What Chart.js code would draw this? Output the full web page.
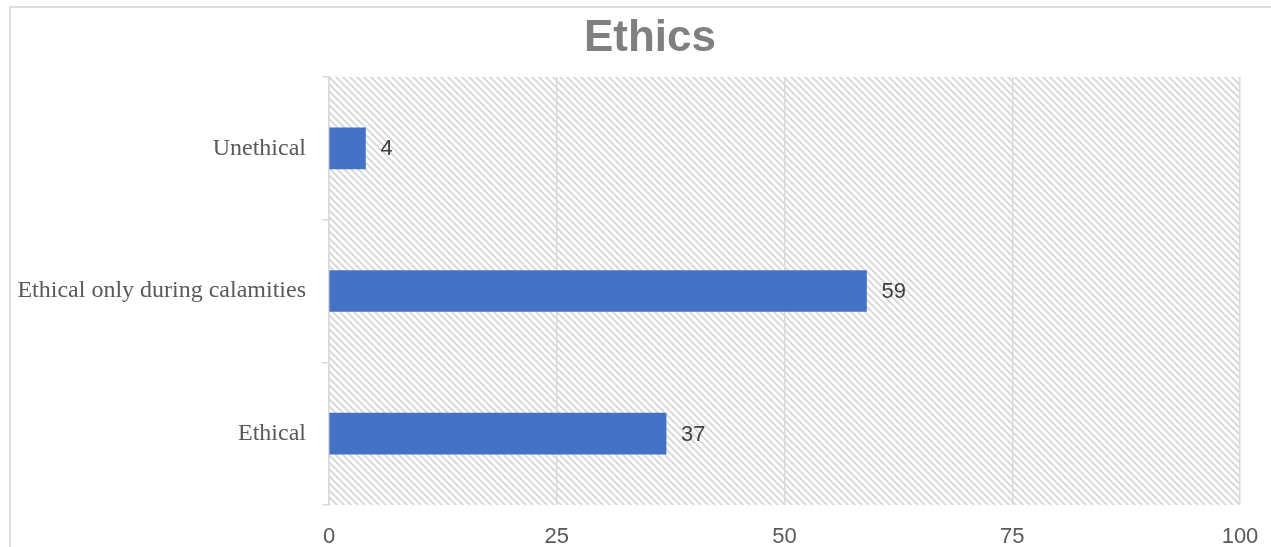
<!DOCTYPE html>
<html>
<head>
<meta charset="utf-8">
<script src="https://cdn.jsdelivr.net/npm/chart.js@4.4.1/dist/chart.umd.min.js"></script>
<style>
  html, body { margin: 0; padding: 0; background: #fff; overflow: hidden; }
  #wrap { position: relative; width: 1271px; height: 547px; }
  #frame { position: absolute; left: 9px; top: 6px; width: 1300px; height: 600px;
           border: 2px solid #dedede; box-sizing: border-box; }
  canvas { position: absolute; left: 0; top: 0; }
</style>
</head>
<body>
<div id="wrap">
  <div id="frame"></div>
  <canvas id="ethicsChart" width="1271" height="547"></canvas>
</div>
<script>
// data
const categories = ['Unethical', 'Ethical only during calamities', 'Ethical'];
const values = [4, 59, 37];
const xTicks = [0, 25, 50, 75, 100];
const chartTitle = 'Ethics';

// diagonal hatch for the plot area
function makeHatch() {
    const s = 7;
    const c = document.createElement('canvas');
    c.width = s;
    c.height = s;
    const g = c.getContext('2d');
    g.fillStyle = '#ffffff';
    g.fillRect(0, 0, s, s);
    g.strokeStyle = '#d6d6d6';
    g.lineWidth = 1.8;
    for (let k = -1; k <= 1; k++) {
        g.beginPath();
        g.moveTo(-2, -2 + k * s);
        g.lineTo(s + 2, s + 2 + k * s);
        g.stroke();
    }
    return g.createPattern(c, 'repeat');
}

const hatchBackground = {
    id: 'hatchBackground',
    beforeDraw(chart) {
        const { ctx, chartArea } = chart;
        ctx.save();
        ctx.fillStyle = makeHatch();
        ctx.fillRect(chartArea.left, chartArea.top, chartArea.right - chartArea.left, chartArea.bottom - chartArea.top);
        ctx.restore();
    }
};

const valueLabels = {
    id: 'valueLabels',
    afterDatasetsDraw(chart) {
        const { ctx } = chart;
        const meta = chart.getDatasetMeta(0);
        ctx.save();
        ctx.font = '22px "Liberation Sans", Arial, sans-serif';
        ctx.fillStyle = '#404040';
        ctx.textAlign = 'left';
        ctx.textBaseline = 'middle';
        meta.data.forEach((bar, i) => {
            ctx.fillText(String(values[i]), bar.x + 15, bar.y + 1);
        });
        ctx.restore();
    }
};

// title sits a bit right of the canvas centre in the original
const offsetTitle = {
    id: 'offsetTitle',
    afterDraw(chart) {
        const { ctx } = chart;
        ctx.save();
        ctx.font = 'bold 44px "Liberation Sans", Arial, sans-serif';
        ctx.fillStyle = '#808080';
        ctx.textAlign = 'center';
        ctx.textBaseline = 'middle';
        ctx.fillText(chartTitle, 650, 39);
        ctx.restore();
    }
};

const ctx = document.getElementById('ethicsChart').getContext('2d');

new Chart(ctx, {
    type: 'bar',
    data: {
        labels: categories,
        datasets: [{
            data: values,
            backgroundColor: '#4472c4',
            borderWidth: 0,
            barThickness: 41
        }]
    },
    options: {
        indexAxis: 'y',
        responsive: false,
        animation: false,
        layout: { padding: { left: 0, right: 31, top: 77, bottom: 0 } },
        plugins: {
            legend: { display: false },
            tooltip: { enabled: false },
            title: { display: false }
        },
        scales: {
            x: {
                min: 0,
                max: 100,
                afterBuildTicks(scale) {
                    scale.ticks = xTicks.map(v => ({ value: v }));
                },
                afterFit(scale) {
                    scale.height = 42;
                    scale.paddingLeft = 0;
                    scale.paddingRight = 0;
                },
                grid: { color: '#d9d9d9', lineWidth: 1.5, drawTicks: false },
                border: { display: false },
                ticks: {
                    color: '#595959',
                    padding: 19,
                    font: { family: '"Liberation Sans", Arial, sans-serif', size: 22 }
                }
            },
            y: {
                afterFit(scale) { scale.width = 329; },
                grid: {
                    offset: true,
                    drawOnChartArea: false,
                    drawTicks: true,
                    tickLength: 7,
                    color: '#d9d9d9',
                    lineWidth: 1.5
                },
                border: { display: true, color: '#d9d9d9', width: 1.5 },
                ticks: {
                    color: '#595959',
                    padding: 16,
                    font: { family: '"Liberation Serif", "Times New Roman", serif', size: 24 }
                }
            }
        }
    },
    plugins: [hatchBackground, valueLabels, offsetTitle]
});
</script>
</body>
</html>
